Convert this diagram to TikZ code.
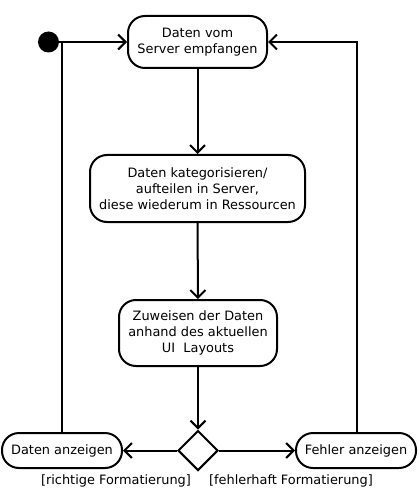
\documentclass[tikz,border=0pt]{standalone}
\usepackage{fontspec}
\setmainfont{DejaVu Sans}
\usetikzlibrary{shapes.geometric,arrows.meta}
\begin{document}
\begin{tikzpicture}[x=1pt,y=-1pt,
  every node/.style={font=\fontsize{12.9}{16}\selectfont},
  act/.style={draw,line width=2pt,rounded corners=17pt,align=center,inner sep=0pt},
  flow/.style={line width=2pt,-{Straight Barb[length=7.5pt,width=15pt,line width=2pt]}},
  line/.style={line width=2pt}]
\useasboundingbox (0,0) rectangle (418,489);
\node[circle,fill=black,inner sep=0pt,minimum size=21pt] (start) at (48.5,42) {};
\node[act,minimum width=139pt,minimum height=52pt] (recv) at (197.5,42) {Daten vom\\Server empfangen};
\node[act,minimum width=215pt,minimum height=67pt] (cat) at (197.5,188.5) {Daten kategorisieren/\\aufteilen in Server,\\diese wiederum in Ressourcen};
\node[act,minimum width=158pt,minimum height=66pt] (assign) at (198,333) {Zuweisen der Daten\\anhand des aktuellen\\UI\ \ Layouts};
\node[diamond,draw,line width=2pt,minimum width=40pt,minimum height=40pt,inner sep=0pt] (dec) at (198,450.5) {};
\node[act,minimum width=120pt,minimum height=35pt] (show) at (62,450.5) {Daten anzeigen};
\node[act,minimum width=120pt,minimum height=35pt] (err) at (356,450.5) {Fehler anzeigen};
\node (lok) at (116,480.5) {[richtige Formatierung]};
\node (lerr) at (291,480.5) {[fehlerhaft Formatierung]};
\coordinate (jl) at (61.5,42);
\coordinate (jr) at (357,42);
\draw[flow] (start) -- (recv);
\draw[line] (show.north -| jl) -- (jl);
\draw[flow] (err.north -| jr) -- (jr) -- (recv.east);
\draw[flow] (recv) -- (cat);
\draw[flow] (cat) -- (assign);
\draw[flow] (assign) -- (dec);
\draw[flow] (dec) -- (show);
\draw[flow] (dec) -- (err);
\end{tikzpicture}
\end{document}
